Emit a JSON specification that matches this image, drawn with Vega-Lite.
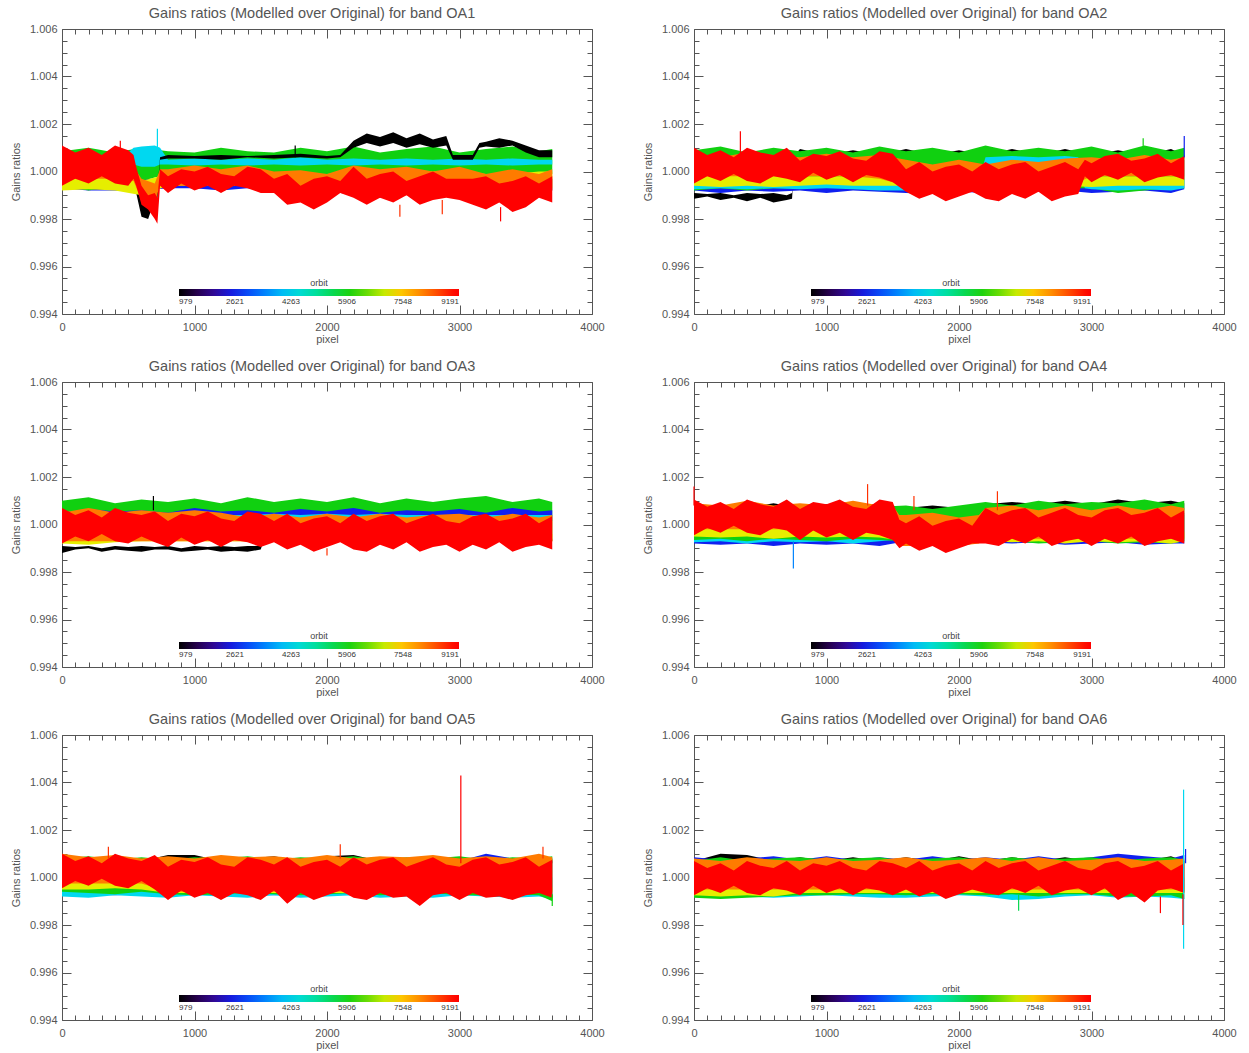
{
"$schema":"https://vega.github.io/schema/vega-lite/v6.json",
"autosize":{"type":"pad"},
"padding":{"left":10,"top":5,"right":5,"bottom":5},
"config":{"view":{"stroke":null},
"axis":{"grid":false,"domainColor":"#555","tickColor":"#555","labelColor":"#555","titleColor":"#555","labelFont":"Liberation Sans","titleFont":"Liberation Sans","labelFontSize":11,"titleFontSize":11,"titleFontWeight":"normal","labelFlush":false,"labelOverlap":false},
"title":{"fontSize":14.5,"fontWeight":"normal","font":"Liberation Sans","color":"#555","offset":2,"anchor":"middle","dx":-15},
"legend":{"titleFontSize":9,"titleFontWeight":"normal","titleColor":"#444","titleFont":"Liberation Sans","labelFont":"Liberation Sans","labelFontSize":8,"labelColor":"#333","titlePadding":1,"labelOffset":2,"gradientStrokeWidth":0}},
"datasets":{
"a1":[
{"o":2621,"x":0,"l":0.9993,"h":0.9997},{"o":2621,"x":200,"l":0.9992,"h":0.9997},{"o":2621,"x":400,"l":0.9992,"h":0.9997},{"o":2621,"x":600,"l":0.9992,"h":0.9997},{"o":2621,"x":800,"l":0.9993,"h":0.9997},{"o":2621,"x":1000,"l":0.9993,"h":0.9997},{"o":2621,"x":1200,"l":0.9992,"h":0.9997},{"o":2621,"x":1400,"l":0.9993,"h":0.9997},{"o":2621,"x":1600,"l":0.9992,"h":0.9997},{"o":2621,"x":1800,"l":0.9992,"h":0.9997},{"o":2621,"x":2000,"l":0.9992,"h":0.9997},{"o":2621,"x":2200,"l":0.999,"h":0.9997},{"o":2621,"x":2400,"l":0.9989,"h":0.9997},{"o":2621,"x":2600,"l":0.9991,"h":0.9997},{"o":2621,"x":2800,"l":0.999,"h":0.9997},{"o":2621,"x":3000,"l":0.9991,"h":0.9997},{"o":2621,"x":3200,"l":0.9992,"h":0.9997},{"o":2621,"x":3400,"l":0.9992,"h":0.9997},{"o":2621,"x":3600,"l":0.9992,"h":0.9997},{"o":2621,"x":3700,"l":0.9992,"h":0.9997},
{"o":5906,"x":0,"l":0.9994,"h":1.00085},{"o":5906,"x":200,"l":0.9992,"h":1.001},{"o":5906,"x":400,"l":0.9994,"h":1.0008},{"o":5906,"x":600,"l":0.9996,"h":1.001},{"o":5906,"x":800,"l":0.9999,"h":1.00085},{"o":5906,"x":1000,"l":0.9998,"h":1.0008},{"o":5906,"x":1200,"l":0.9999,"h":1.001},{"o":5906,"x":1400,"l":0.9999,"h":1.00085},{"o":5906,"x":1600,"l":0.9998,"h":1.0008},{"o":5906,"x":1800,"l":0.9999,"h":1.001},{"o":5906,"x":2000,"l":0.9999,"h":1.00085},{"o":5906,"x":2200,"l":0.9998,"h":1.00105},{"o":5906,"x":2400,"l":0.9999,"h":1.0008},{"o":5906,"x":2600,"l":0.9999,"h":1.00095},{"o":5906,"x":2800,"l":0.9998,"h":1.00105},{"o":5906,"x":3000,"l":0.9999,"h":1.0008},{"o":5906,"x":3200,"l":0.9999,"h":1.00095},{"o":5906,"x":3400,"l":0.9998,"h":1.00105},{"o":5906,"x":3600,"l":0.9999,"h":1.00085},{"o":5906,"x":3700,"l":0.9999,"h":1.00095},
{"o":4263,"x":0,"l":1.0001,"h":1.0003},{"o":4263,"x":200,"l":1.0001,"h":1.0003},{"o":4263,"x":400,"l":1.0001,"h":1.0003},{"o":4263,"x":540,"l":1.0003,"h":1.001},{"o":4263,"x":600,"l":1.0002,"h":1.00105},{"o":4263,"x":700,"l":1.0002,"h":1.0011},{"o":4263,"x":740,"l":1.0003,"h":1.001},{"o":4263,"x":800,"l":1.0003,"h":1.0005},{"o":4263,"x":1000,"l":1.00025,"h":1.00055},{"o":4263,"x":1200,"l":1.0003,"h":1.0005},{"o":4263,"x":1400,"l":1.00025,"h":1.00055},{"o":4263,"x":1600,"l":1.0003,"h":1.0005},{"o":4263,"x":1800,"l":1.00025,"h":1.0006},{"o":4263,"x":2000,"l":1.0003,"h":1.0005},{"o":4263,"x":2200,"l":1.00025,"h":1.00055},{"o":4263,"x":2400,"l":1.0003,"h":1.0005},{"o":4263,"x":2600,"l":1.00025,"h":1.00055},{"o":4263,"x":2800,"l":1.0003,"h":1.0005},{"o":4263,"x":3000,"l":1.00025,"h":1.00055},{"o":4263,"x":3200,"l":1.0003,"h":1.0005},{"o":4263,"x":3400,"l":1.00025,"h":1.00055},{"o":4263,"x":3600,"l":1.0003,"h":1.0005},{"o":4263,"x":3700,"l":1.0003,"h":1.0005},
{"o":979,"x":0,"l":0.9994,"h":0.9996},{"o":979,"x":200,"l":0.9994,"h":0.9996},{"o":979,"x":400,"l":0.9994,"h":0.9996},{"o":979,"x":500,"l":0.99935,"h":0.9996},{"o":979,"x":560,"l":0.9991,"h":0.9994},{"o":979,"x":600,"l":0.9981,"h":0.9988},{"o":979,"x":650,"l":0.998,"h":0.9986},{"o":979,"x":700,"l":0.9988,"h":0.9992},{"o":979,"x":720,"l":0.9988,"h":0.9992},{"o":979,"x":740,"l":1.0005,"h":1.0006},{"o":979,"x":800,"l":1.00055,"h":1.0007},{"o":979,"x":1000,"l":1.00055,"h":1.00065},{"o":979,"x":1200,"l":1.0005,"h":1.0007},{"o":979,"x":1400,"l":1.0006,"h":1.00065},{"o":979,"x":1600,"l":1.00055,"h":1.0007},{"o":979,"x":1800,"l":1.0006,"h":1.00075},{"o":979,"x":2000,"l":1.00055,"h":1.00065},{"o":979,"x":2100,"l":1.0006,"h":1.0007},{"o":979,"x":2200,"l":1.001,"h":1.0013},{"o":979,"x":2300,"l":1.0012,"h":1.0016},{"o":979,"x":2400,"l":1.00105,"h":1.00145},{"o":979,"x":2500,"l":1.0012,"h":1.00165},{"o":979,"x":2600,"l":1.001,"h":1.0014},{"o":979,"x":2700,"l":1.00115,"h":1.0016},{"o":979,"x":2800,"l":1.001,"h":1.00135},{"o":979,"x":2900,"l":1.0011,"h":1.0015},{"o":979,"x":2950,"l":1.0005,"h":1.0007},{"o":979,"x":3000,"l":1.0005,"h":1.0007},{"o":979,"x":3100,"l":1.0005,"h":1.0007},{"o":979,"x":3150,"l":1.001,"h":1.0012},{"o":979,"x":3200,"l":1.00105,"h":1.00125},{"o":979,"x":3300,"l":1.001,"h":1.0014},{"o":979,"x":3400,"l":1.0011,"h":1.0013},{"o":979,"x":3500,"l":1.0008,"h":1.0011},{"o":979,"x":3600,"l":1.0006,"h":1.0009},{"o":979,"x":3700,"l":1.0006,"h":1.0009},
{"o":7150,"x":0,"l":0.9992,"h":0.9999},{"o":7150,"x":200,"l":0.99925,"h":0.9998},{"o":7150,"x":400,"l":0.9992,"h":0.9998},{"o":7150,"x":600,"l":0.999,"h":0.9996},{"o":7150,"x":800,"l":0.9994,"h":0.9999},{"o":7150,"x":1000,"l":0.9994,"h":1.0},{"o":7150,"x":1200,"l":0.9994,"h":1.0},{"o":7150,"x":1400,"l":0.9994,"h":1.0},{"o":7150,"x":1600,"l":0.9993,"h":0.9999},{"o":7150,"x":1800,"l":0.9992,"h":0.9998},{"o":7150,"x":2000,"l":0.9993,"h":0.9999},{"o":7150,"x":2200,"l":0.9994,"h":1.0},{"o":7150,"x":2400,"l":0.9993,"h":1.0},{"o":7150,"x":2600,"l":0.9992,"h":0.9999},{"o":7150,"x":2800,"l":0.9993,"h":1.0},{"o":7150,"x":3000,"l":0.9993,"h":1.0},{"o":7150,"x":3200,"l":0.9992,"h":0.9999},{"o":7150,"x":3400,"l":0.9992,"h":0.9999},{"o":7150,"x":3600,"l":0.9993,"h":1.0},{"o":7150,"x":3700,"l":0.9993,"h":1.0},
{"o":8200,"x":0,"l":0.9997,"h":1.0005},{"o":8200,"x":200,"l":0.9997,"h":1.0006},{"o":8200,"x":400,"l":0.9997,"h":1.0005},{"o":8200,"x":540,"l":0.9996,"h":1.0002},{"o":8200,"x":600,"l":0.9988,"h":0.9997},{"o":8200,"x":700,"l":0.9986,"h":0.9995},{"o":8200,"x":740,"l":0.9995,"h":1.0001},{"o":8200,"x":800,"l":0.9994,"h":1.0001},{"o":8200,"x":1000,"l":0.9994,"h":1.00025},{"o":8200,"x":1200,"l":0.9994,"h":1.0001},{"o":8200,"x":1400,"l":0.9994,"h":1.00025},{"o":8200,"x":1600,"l":0.9992,"h":1.0},{"o":8200,"x":1800,"l":0.999,"h":1.00005},{"o":8200,"x":2000,"l":0.9992,"h":0.9999},{"o":8200,"x":2200,"l":0.9992,"h":1.00025},{"o":8200,"x":2400,"l":0.9991,"h":1.0001},{"o":8200,"x":2600,"l":0.999,"h":1.0002},{"o":8200,"x":2800,"l":0.9991,"h":1.0},{"o":8200,"x":3000,"l":0.9992,"h":1.0002},{"o":8200,"x":3200,"l":0.999,"h":0.9999},{"o":8200,"x":3400,"l":0.999,"h":1.0001},{"o":8200,"x":3600,"l":0.9991,"h":0.9999},{"o":8200,"x":3700,"l":0.9992,"h":1.0001},
{"o":9191,"x":0,"l":0.9994,"h":1.0011},{"o":9191,"x":100,"l":0.9997,"h":1.0008},{"o":9191,"x":200,"l":0.9995,"h":1.001},{"o":9191,"x":300,"l":0.9998,"h":1.0007},{"o":9191,"x":400,"l":0.9995,"h":1.0011},{"o":9191,"x":500,"l":0.9994,"h":1.0009},{"o":9191,"x":540,"l":0.9997,"h":1.0007},{"o":9191,"x":560,"l":0.9994,"h":1.0002},{"o":9191,"x":600,"l":0.9986,"h":0.9994},{"o":9191,"x":650,"l":0.9984,"h":0.999},{"o":9191,"x":700,"l":0.998,"h":0.9991},{"o":9191,"x":720,"l":0.9978,"h":0.9989},{"o":9191,"x":740,"l":0.9994,"h":1.0001},{"o":9191,"x":800,"l":0.9991,"h":0.9998},{"o":9191,"x":900,"l":0.9995,"h":1.0001},{"o":9191,"x":1000,"l":0.9992,"h":1.0},{"o":9191,"x":1100,"l":0.9994,"h":1.0002},{"o":9191,"x":1200,"l":0.9991,"h":0.9999},{"o":9191,"x":1300,"l":0.9994,"h":0.9998},{"o":9191,"x":1400,"l":0.9993,"h":1.0002},{"o":9191,"x":1500,"l":0.9991,"h":1.0001},{"o":9191,"x":1600,"l":0.9991,"h":0.9997},{"o":9191,"x":1700,"l":0.9986,"h":0.9999},{"o":9191,"x":1800,"l":0.9987,"h":0.9994},{"o":9191,"x":1900,"l":0.9984,"h":0.9997},{"o":9191,"x":2000,"l":0.9987,"h":0.9998},{"o":9191,"x":2100,"l":0.9991,"h":0.9996},{"o":9191,"x":2200,"l":0.9989,"h":1.0002},{"o":9191,"x":2300,"l":0.9986,"h":0.9997},{"o":9191,"x":2400,"l":0.9989,"h":0.9999},{"o":9191,"x":2500,"l":0.9987,"h":1.0},{"o":9191,"x":2600,"l":0.999,"h":0.9996},{"o":9191,"x":2700,"l":0.9986,"h":0.9998},{"o":9191,"x":2800,"l":0.9988,"h":1.0},{"o":9191,"x":2900,"l":0.9989,"h":0.9997},{"o":9191,"x":3000,"l":0.9988,"h":0.9997},{"o":9191,"x":3100,"l":0.9986,"h":0.9997},{"o":9191,"x":3200,"l":0.9984,"h":0.9998},{"o":9191,"x":3300,"l":0.9987,"h":0.9995},{"o":9191,"x":3400,"l":0.9983,"h":0.9996},{"o":9191,"x":3500,"l":0.9985,"h":0.9998},{"o":9191,"x":3600,"l":0.9989,"h":0.9995},{"o":9191,"x":3700,"l":0.9987,"h":0.9998}
],
"s1":[{"o":9191,"x":440,"l":1.0002,"h":1.0013},{"o":4263,"x":720,"l":1.0008,"h":1.0018},{"o":8700,"x":2550,"l":0.9986,"h":0.9981},{"o":8700,"x":2870,"l":0.9988,"h":0.9982},{"o":9191,"x":3310,"l":0.9985,"h":0.9979},{"o":979,"x":1760,"l":1.0006,"h":1.0011}],
"a2":[
{"o":979,"x":0,"l":0.99885,"h":0.9991},{"o":979,"x":100,"l":0.99895,"h":0.99905},{"o":979,"x":200,"l":0.9988,"h":0.9991},{"o":979,"x":300,"l":0.9989,"h":0.999},{"o":979,"x":400,"l":0.99875,"h":0.9991},{"o":979,"x":500,"l":0.9989,"h":0.99905},{"o":979,"x":600,"l":0.9987,"h":0.9991},{"o":979,"x":700,"l":0.9988,"h":0.999},{"o":979,"x":740,"l":0.99885,"h":0.9991},{"o":979,"x":760,"l":1.00055,"h":1.0007},{"o":979,"x":800,"l":1.00055,"h":1.00095},{"o":979,"x":1000,"l":1.00055,"h":1.0007},{"o":979,"x":1200,"l":1.00055,"h":1.0009},{"o":979,"x":1400,"l":1.00055,"h":1.0007},{"o":979,"x":1600,"l":1.00055,"h":1.00095},{"o":979,"x":1800,"l":1.00055,"h":1.0007},{"o":979,"x":2000,"l":1.00055,"h":1.0009},{"o":979,"x":2200,"l":1.00055,"h":1.0007},{"o":979,"x":2400,"l":1.00055,"h":1.00095},{"o":979,"x":2600,"l":1.00055,"h":1.0007},{"o":979,"x":2800,"l":1.00055,"h":1.00095},{"o":979,"x":3000,"l":1.00055,"h":1.0007},{"o":979,"x":3200,"l":1.00055,"h":1.0009},{"o":979,"x":3400,"l":1.00055,"h":1.0007},{"o":979,"x":3600,"l":1.00055,"h":1.00095},{"o":979,"x":3700,"l":1.00055,"h":1.0007},
{"o":2621,"x":0,"l":0.9992,"h":1.0005},{"o":2621,"x":200,"l":0.9991,"h":1.0005},{"o":2621,"x":400,"l":0.9992,"h":1.0005},{"o":2621,"x":600,"l":0.99915,"h":1.0005},{"o":2621,"x":800,"l":0.9992,"h":1.0005},{"o":2621,"x":1000,"l":0.9991,"h":1.0005},{"o":2621,"x":1200,"l":0.9992,"h":1.0005},{"o":2621,"x":1400,"l":0.99915,"h":1.0005},{"o":2621,"x":1600,"l":0.9991,"h":1.0005},{"o":2621,"x":1800,"l":0.99905,"h":1.0005},{"o":2621,"x":2000,"l":0.99915,"h":1.0005},{"o":2621,"x":2200,"l":0.9991,"h":1.0005},{"o":2621,"x":2400,"l":0.9992,"h":1.0005},{"o":2621,"x":2600,"l":0.99915,"h":1.0005},{"o":2621,"x":2800,"l":0.9992,"h":1.0005},{"o":2621,"x":3000,"l":0.9991,"h":1.0005},{"o":2621,"x":3200,"l":0.99915,"h":1.0005},{"o":2621,"x":3400,"l":0.9992,"h":1.0005},{"o":2621,"x":3600,"l":0.9991,"h":1.0005},{"o":2621,"x":3700,"l":0.99925,"h":1.0005},
{"o":5906,"x":0,"l":0.9992,"h":1.0009},{"o":5906,"x":200,"l":0.9993,"h":1.00105},{"o":5906,"x":400,"l":0.9992,"h":1.0008},{"o":5906,"x":600,"l":0.9993,"h":1.001},{"o":5906,"x":800,"l":0.9993,"h":1.00085},{"o":5906,"x":1000,"l":0.9994,"h":1.001},{"o":5906,"x":1200,"l":0.9993,"h":1.0008},{"o":5906,"x":1400,"l":0.9993,"h":1.00105},{"o":5906,"x":1600,"l":0.9993,"h":1.00085},{"o":5906,"x":1800,"l":0.9993,"h":1.001},{"o":5906,"x":2000,"l":0.9993,"h":1.0008},{"o":5906,"x":2200,"l":0.9993,"h":1.0011},{"o":5906,"x":2400,"l":0.9993,"h":1.00085},{"o":5906,"x":2600,"l":0.9993,"h":1.001},{"o":5906,"x":2800,"l":0.9993,"h":1.00085},{"o":5906,"x":3000,"l":0.9993,"h":1.00105},{"o":5906,"x":3200,"l":0.9991,"h":1.0008},{"o":5906,"x":3400,"l":0.9992,"h":1.0011},{"o":5906,"x":3600,"l":0.9993,"h":1.00085},{"o":5906,"x":3700,"l":0.9993,"h":1.001},
{"o":4263,"x":0,"l":0.99925,"h":0.9997},{"o":4263,"x":200,"l":0.9993,"h":0.9997},{"o":4263,"x":400,"l":0.99925,"h":0.9997},{"o":4263,"x":600,"l":0.9993,"h":0.9997},{"o":4263,"x":800,"l":0.99925,"h":0.9997},{"o":4263,"x":1000,"l":0.9993,"h":0.9997},{"o":4263,"x":1200,"l":0.99925,"h":0.9997},{"o":4263,"x":1400,"l":0.9992,"h":0.9997},{"o":4263,"x":1600,"l":0.9992,"h":0.9996},{"o":4263,"x":1800,"l":0.9992,"h":0.9996},{"o":4263,"x":2000,"l":0.9992,"h":0.9996},{"o":4263,"x":2150,"l":0.9992,"h":0.9996},{"o":4263,"x":2200,"l":1.0001,"h":1.0006},{"o":4263,"x":2400,"l":1.0001,"h":1.00065},{"o":4263,"x":2600,"l":1.00015,"h":1.0006},{"o":4263,"x":2800,"l":1.0001,"h":1.00065},{"o":4263,"x":2900,"l":1.0001,"h":1.0006},{"o":4263,"x":2950,"l":0.9993,"h":0.9997},{"o":4263,"x":3000,"l":0.99925,"h":0.9997},{"o":4263,"x":3200,"l":0.9992,"h":0.9997},{"o":4263,"x":3400,"l":0.99925,"h":0.9997},{"o":4263,"x":3600,"l":0.9992,"h":0.9997},{"o":4263,"x":3700,"l":0.9993,"h":0.9997},
{"o":7150,"x":0,"l":0.9994,"h":0.9999},{"o":7150,"x":200,"l":0.99935,"h":1.0},{"o":7150,"x":400,"l":0.9994,"h":0.9999},{"o":7150,"x":600,"l":0.99935,"h":0.9999},{"o":7150,"x":800,"l":0.9994,"h":0.9998},{"o":7150,"x":1000,"l":0.99945,"h":0.9998},{"o":7150,"x":1200,"l":0.9994,"h":0.9998},{"o":7150,"x":1400,"l":0.9994,"h":0.9998},{"o":7150,"x":1600,"l":0.9994,"h":0.9997},{"o":7150,"x":2000,"l":0.9994,"h":0.9997},{"o":7150,"x":2400,"l":0.9994,"h":0.9997},{"o":7150,"x":2800,"l":0.9994,"h":0.9997},{"o":7150,"x":3000,"l":0.99935,"h":0.9998},{"o":7150,"x":3200,"l":0.9994,"h":0.9998},{"o":7150,"x":3400,"l":0.9994,"h":0.9998},{"o":7150,"x":3600,"l":0.9994,"h":0.9998},{"o":7150,"x":3700,"l":0.9994,"h":0.9998},
{"o":8200,"x":0,"l":0.9998,"h":1.0007},{"o":8200,"x":200,"l":0.9998,"h":1.0006},{"o":8200,"x":400,"l":0.9998,"h":1.0008},{"o":8200,"x":600,"l":0.9998,"h":1.0007},{"o":8200,"x":800,"l":0.9998,"h":1.0006},{"o":8200,"x":1000,"l":0.9998,"h":1.00075},{"o":8200,"x":1200,"l":0.9998,"h":1.0006},{"o":8200,"x":1400,"l":0.9997,"h":1.0007},{"o":8200,"x":1600,"l":0.9994,"h":1.0005},{"o":8200,"x":1800,"l":0.9993,"h":1.0003},{"o":8200,"x":2000,"l":0.9993,"h":1.0005},{"o":8200,"x":2200,"l":0.9993,"h":1.0003},{"o":8200,"x":2400,"l":0.9992,"h":1.0005},{"o":8200,"x":2600,"l":0.9992,"h":1.0004},{"o":8200,"x":2800,"l":0.9993,"h":1.00055},{"o":8200,"x":3000,"l":0.9998,"h":1.0006},{"o":8200,"x":3200,"l":0.9998,"h":1.0005},{"o":8200,"x":3400,"l":0.9998,"h":1.0007},{"o":8200,"x":3600,"l":0.9998,"h":1.0005},{"o":8200,"x":3700,"l":0.9998,"h":1.0006},
{"o":9191,"x":0,"l":0.9995,"h":1.001},{"o":9191,"x":100,"l":0.9998,"h":1.0007},{"o":9191,"x":200,"l":0.9996,"h":1.0009},{"o":9191,"x":300,"l":0.9999,"h":1.0006},{"o":9191,"x":400,"l":0.9996,"h":1.001},{"o":9191,"x":500,"l":0.9995,"h":1.0008},{"o":9191,"x":600,"l":0.9998,"h":1.0007},{"o":9191,"x":700,"l":0.9997,"h":1.001},{"o":9191,"x":800,"l":0.99955,"h":1.00045},{"o":9191,"x":900,"l":0.99995,"h":1.00075},{"o":9191,"x":1000,"l":0.99965,"h":1.00065},{"o":9191,"x":1100,"l":0.99985,"h":1.00085},{"o":9191,"x":1200,"l":0.99955,"h":1.00055},{"o":9191,"x":1300,"l":0.99985,"h":1.00045},{"o":9191,"x":1400,"l":0.99975,"h":1.00085},{"o":9191,"x":1500,"l":0.99955,"h":1.00075},{"o":9191,"x":1600,"l":0.99915,"h":1.0001},{"o":9191,"x":1700,"l":0.99885,"h":1.0004},{"o":9191,"x":1800,"l":0.99905,"h":1.0},{"o":9191,"x":1900,"l":0.99875,"h":1.0002},{"o":9191,"x":2000,"l":0.99895,"h":1.0003},{"o":9191,"x":2100,"l":0.99915,"h":1.0},{"o":9191,"x":2200,"l":0.99885,"h":1.0004},{"o":9191,"x":2300,"l":0.99875,"h":1.0001},{"o":9191,"x":2400,"l":0.99905,"h":1.0003},{"o":9191,"x":2500,"l":0.99885,"h":1.0004},{"o":9191,"x":2600,"l":0.99915,"h":1.0},{"o":9191,"x":2700,"l":0.99875,"h":1.0002},{"o":9191,"x":2800,"l":0.99895,"h":1.0004},{"o":9191,"x":2900,"l":0.99905,"h":1.0001},{"o":9191,"x":2950,"l":0.9998,"h":1.0005},{"o":9191,"x":3000,"l":0.99955,"h":1.00035},{"o":9191,"x":3100,"l":0.99985,"h":1.00065},{"o":9191,"x":3200,"l":0.99965,"h":1.00075},{"o":9191,"x":3300,"l":0.99995,"h":1.00045},{"o":9191,"x":3400,"l":0.99955,"h":1.00055},{"o":9191,"x":3500,"l":0.99975,"h":1.00075},{"o":9191,"x":3600,"l":0.99985,"h":1.00035},{"o":9191,"x":3700,"l":0.99965,"h":1.00065}
],
"s2":[{"o":9191,"x":350,"l":1.0005,"h":1.0017},{"o":2621,"x":3700,"l":1.0006,"h":1.0015},{"o":5906,"x":3390,"l":1.0008,"h":1.0014}],
"a3":[
{"o":5906,"x":0,"l":0.9994,"h":1.001},{"o":5906,"x":200,"l":0.9994,"h":1.00115},{"o":5906,"x":400,"l":0.9994,"h":1.0009},{"o":5906,"x":600,"l":0.9994,"h":1.00105},{"o":5906,"x":800,"l":0.9994,"h":1.00095},{"o":5906,"x":1000,"l":0.9994,"h":1.0011},{"o":5906,"x":1200,"l":0.9994,"h":1.0009},{"o":5906,"x":1400,"l":0.9994,"h":1.00115},{"o":5906,"x":1600,"l":0.9994,"h":1.00095},{"o":5906,"x":1800,"l":0.9994,"h":1.0011},{"o":5906,"x":2000,"l":0.9994,"h":1.00095},{"o":5906,"x":2200,"l":0.9994,"h":1.00115},{"o":5906,"x":2400,"l":0.9994,"h":1.0009},{"o":5906,"x":2600,"l":0.9994,"h":1.0011},{"o":5906,"x":2800,"l":0.9994,"h":1.00095},{"o":5906,"x":3000,"l":0.9994,"h":1.0011},{"o":5906,"x":3200,"l":0.9994,"h":1.0012},{"o":5906,"x":3400,"l":0.9994,"h":1.00095},{"o":5906,"x":3600,"l":0.9994,"h":1.0011},{"o":5906,"x":3700,"l":0.9994,"h":1.00095},
{"o":2621,"x":0,"l":1.00035,"h":1.0005},{"o":2621,"x":200,"l":1.00035,"h":1.00065},{"o":2621,"x":400,"l":1.00035,"h":1.00055},{"o":2621,"x":600,"l":1.00035,"h":1.0006},{"o":2621,"x":800,"l":1.00035,"h":1.0005},{"o":2621,"x":1000,"l":1.00035,"h":1.0007},{"o":2621,"x":1200,"l":1.00035,"h":1.00055},{"o":2621,"x":1400,"l":1.00035,"h":1.0006},{"o":2621,"x":1600,"l":1.00035,"h":1.0005},{"o":2621,"x":1800,"l":1.00035,"h":1.00065},{"o":2621,"x":2000,"l":1.00035,"h":1.00055},{"o":2621,"x":2200,"l":1.00035,"h":1.0007},{"o":2621,"x":2400,"l":1.00035,"h":1.0005},{"o":2621,"x":2600,"l":1.00035,"h":1.0006},{"o":2621,"x":2800,"l":1.00035,"h":1.00055},{"o":2621,"x":3000,"l":1.00035,"h":1.00065},{"o":2621,"x":3200,"l":1.00035,"h":1.0005},{"o":2621,"x":3400,"l":1.00035,"h":1.0007},{"o":2621,"x":3600,"l":1.00035,"h":1.00055},{"o":2621,"x":3700,"l":1.00035,"h":1.0006},
{"o":4263,"x":0,"l":1.00015,"h":1.0004},{"o":4263,"x":200,"l":1.00015,"h":1.0004},{"o":4263,"x":400,"l":1.00015,"h":1.0004},{"o":4263,"x":600,"l":1.00015,"h":1.0004},{"o":4263,"x":800,"l":1.00015,"h":1.0004},{"o":4263,"x":1000,"l":1.00015,"h":1.0004},{"o":4263,"x":1200,"l":1.00015,"h":1.0004},{"o":4263,"x":1400,"l":1.00015,"h":1.0004},{"o":4263,"x":1600,"l":1.00015,"h":1.00045},{"o":4263,"x":1800,"l":1.00015,"h":1.0004},{"o":4263,"x":2000,"l":1.00015,"h":1.00045},{"o":4263,"x":2200,"l":1.00015,"h":1.0004},{"o":4263,"x":2400,"l":1.00015,"h":1.00045},{"o":4263,"x":2600,"l":1.00015,"h":1.0004},{"o":4263,"x":2800,"l":1.00015,"h":1.0004},{"o":4263,"x":3000,"l":1.00015,"h":1.0004},{"o":4263,"x":3200,"l":1.00015,"h":1.0004},{"o":4263,"x":3400,"l":1.00015,"h":1.0004},{"o":4263,"x":3600,"l":1.00015,"h":1.0004},{"o":4263,"x":3700,"l":1.00015,"h":1.0004},
{"o":979,"x":0,"l":0.9988,"h":0.9991},{"o":979,"x":100,"l":0.99895,"h":0.99905},{"o":979,"x":200,"l":0.999,"h":0.9991},{"o":979,"x":300,"l":0.99885,"h":0.999},{"o":979,"x":400,"l":0.99895,"h":0.9991},{"o":979,"x":500,"l":0.9989,"h":0.99905},{"o":979,"x":600,"l":0.99885,"h":0.9991},{"o":979,"x":700,"l":0.99895,"h":0.99905},{"o":979,"x":800,"l":0.99895,"h":0.9991},{"o":979,"x":900,"l":0.99885,"h":0.999},{"o":979,"x":1000,"l":0.9989,"h":0.9991},{"o":979,"x":1100,"l":0.99895,"h":0.99905},{"o":979,"x":1200,"l":0.99885,"h":0.9991},{"o":979,"x":1300,"l":0.9989,"h":0.99905},{"o":979,"x":1400,"l":0.99885,"h":0.9991},{"o":979,"x":1500,"l":0.99895,"h":0.9991},{"o":979,"x":1520,"l":0.9993,"h":0.9994},{"o":979,"x":2400,"l":0.9993,"h":0.9994},{"o":979,"x":3700,"l":0.9993,"h":0.9994},
{"o":7150,"x":0,"l":0.9992,"h":0.9997},{"o":7150,"x":200,"l":0.99915,"h":0.9997},{"o":7150,"x":400,"l":0.99925,"h":0.9997},{"o":7150,"x":600,"l":0.9993,"h":0.9996},{"o":7150,"x":2000,"l":0.9993,"h":0.9996},{"o":7150,"x":3700,"l":0.9993,"h":0.9996},
{"o":8200,"x":0,"l":0.9993,"h":1.0005},{"o":8200,"x":200,"l":0.9993,"h":1.0007},{"o":8200,"x":400,"l":0.9993,"h":1.0005},{"o":8200,"x":600,"l":0.9993,"h":1.0006},{"o":8200,"x":800,"l":0.9993,"h":1.0005},{"o":8200,"x":1000,"l":0.9993,"h":1.0006},{"o":8200,"x":1200,"l":0.9993,"h":1.0005},{"o":8200,"x":1400,"l":0.9993,"h":1.0003},{"o":8200,"x":1600,"l":0.9993,"h":1.00045},{"o":8200,"x":1800,"l":0.9993,"h":1.0003},{"o":8200,"x":2000,"l":0.9993,"h":1.00045},{"o":8200,"x":2200,"l":0.9993,"h":1.0003},{"o":8200,"x":2400,"l":0.9993,"h":1.00045},{"o":8200,"x":2600,"l":0.9993,"h":1.0003},{"o":8200,"x":2800,"l":0.9993,"h":1.0004},{"o":8200,"x":3000,"l":0.9993,"h":1.00045},{"o":8200,"x":3200,"l":0.9993,"h":1.0003},{"o":8200,"x":3400,"l":0.9993,"h":1.00045},{"o":8200,"x":3600,"l":0.9993,"h":1.0003},{"o":8200,"x":3700,"l":0.9993,"h":1.0004},
{"o":9191,"x":0,"l":0.9992,"h":1.0007},{"o":9191,"x":100,"l":0.9995,"h":1.0004},{"o":9191,"x":200,"l":0.9993,"h":1.0006},{"o":9191,"x":300,"l":0.9996,"h":1.0003},{"o":9191,"x":400,"l":0.9993,"h":1.0007},{"o":9191,"x":500,"l":0.9992,"h":1.0005},{"o":9191,"x":600,"l":0.9995,"h":1.0004},{"o":9191,"x":700,"l":0.99925,"h":1.00055},{"o":9191,"x":800,"l":0.99905,"h":1.00015},{"o":9191,"x":900,"l":0.99945,"h":1.00045},{"o":9191,"x":1000,"l":0.99915,"h":1.00035},{"o":9191,"x":1100,"l":0.99935,"h":1.00055},{"o":9191,"x":1200,"l":0.99905,"h":1.00025},{"o":9191,"x":1300,"l":0.99935,"h":1.00015},{"o":9191,"x":1400,"l":0.99925,"h":1.00055},{"o":9191,"x":1500,"l":0.99905,"h":1.00045},{"o":9191,"x":1600,"l":0.99925,"h":1.00015},{"o":9191,"x":1700,"l":0.99895,"h":1.00045},{"o":9191,"x":1800,"l":0.99915,"h":1.00005},{"o":9191,"x":1900,"l":0.99885,"h":1.00025},{"o":9191,"x":2000,"l":0.99905,"h":1.00035},{"o":9191,"x":2100,"l":0.99925,"h":1.00005},{"o":9191,"x":2200,"l":0.99895,"h":1.00045},{"o":9191,"x":2300,"l":0.99885,"h":1.00015},{"o":9191,"x":2400,"l":0.99915,"h":1.00035},{"o":9191,"x":2500,"l":0.99895,"h":1.00045},{"o":9191,"x":2600,"l":0.99925,"h":1.00005},{"o":9191,"x":2700,"l":0.99885,"h":1.00025},{"o":9191,"x":2800,"l":0.99905,"h":1.00045},{"o":9191,"x":2900,"l":0.99915,"h":1.00015},{"o":9191,"x":3000,"l":0.99885,"h":1.00005},{"o":9191,"x":3100,"l":0.99915,"h":1.00035},{"o":9191,"x":3200,"l":0.99895,"h":1.00045},{"o":9191,"x":3300,"l":0.99925,"h":1.00015},{"o":9191,"x":3400,"l":0.99885,"h":1.00025},{"o":9191,"x":3500,"l":0.99905,"h":1.00045},{"o":9191,"x":3600,"l":0.99915,"h":1.00005},{"o":9191,"x":3700,"l":0.99895,"h":1.00035}
],
"s3":[{"o":979,"x":690,"l":1.0006,"h":1.0012},{"o":8700,"x":2000,"l":0.999,"h":0.9987}],
"a4":[
{"o":979,"x":0,"l":1.0006,"h":1.0007},{"o":979,"x":200,"l":1.0006,"h":1.00085},{"o":979,"x":400,"l":1.0006,"h":1.0007},{"o":979,"x":600,"l":1.0006,"h":1.0009},{"o":979,"x":800,"l":1.0006,"h":1.0007},{"o":979,"x":1000,"l":1.0006,"h":1.00085},{"o":979,"x":1200,"l":1.0006,"h":1.0007},{"o":979,"x":1400,"l":1.0006,"h":1.0009},{"o":979,"x":1600,"l":1.0006,"h":1.0007},{"o":979,"x":1800,"l":1.0006,"h":1.0008},{"o":979,"x":2000,"l":1.0006,"h":1.0007},{"o":979,"x":2200,"l":1.0006,"h":1.00085},{"o":979,"x":2400,"l":1.0006,"h":1.00095},{"o":979,"x":2600,"l":1.0006,"h":1.00085},{"o":979,"x":2800,"l":1.0006,"h":1.001},{"o":979,"x":3000,"l":1.0006,"h":1.00085},{"o":979,"x":3200,"l":1.0006,"h":1.00105},{"o":979,"x":3400,"l":1.0006,"h":1.0009},{"o":979,"x":3600,"l":1.0006,"h":1.001},{"o":979,"x":3700,"l":1.0006,"h":1.0009},
{"o":2621,"x":0,"l":0.9992,"h":1.0005},{"o":2621,"x":200,"l":0.99915,"h":1.0005},{"o":2621,"x":400,"l":0.9992,"h":1.0005},{"o":2621,"x":600,"l":0.9991,"h":1.0005},{"o":2621,"x":800,"l":0.9992,"h":1.0005},{"o":2621,"x":1000,"l":0.99915,"h":1.0005},{"o":2621,"x":1200,"l":0.9992,"h":1.0005},{"o":2621,"x":1400,"l":0.9991,"h":1.0005},{"o":2621,"x":1600,"l":0.9993,"h":1.0005},{"o":2621,"x":1800,"l":0.99925,"h":1.0005},{"o":2621,"x":2000,"l":0.9993,"h":1.0005},{"o":2621,"x":2200,"l":0.99925,"h":1.0005},{"o":2621,"x":2400,"l":0.9992,"h":1.0005},{"o":2621,"x":2600,"l":0.99925,"h":1.0005},{"o":2621,"x":2800,"l":0.99915,"h":1.0005},{"o":2621,"x":3000,"l":0.9992,"h":1.0005},{"o":2621,"x":3200,"l":0.99925,"h":1.0005},{"o":2621,"x":3400,"l":0.99915,"h":1.0005},{"o":2621,"x":3600,"l":0.9992,"h":1.0005},{"o":2621,"x":3700,"l":0.9992,"h":1.0005},
{"o":4263,"x":0,"l":0.99925,"h":1.0004},{"o":4263,"x":200,"l":0.9993,"h":1.0004},{"o":4263,"x":400,"l":0.9992,"h":1.0004},{"o":4263,"x":600,"l":0.9993,"h":1.0004},{"o":4263,"x":800,"l":0.99925,"h":1.0004},{"o":4263,"x":1000,"l":0.9993,"h":1.0004},{"o":4263,"x":1200,"l":0.9992,"h":1.0004},{"o":4263,"x":1400,"l":0.9993,"h":1.0004},{"o":4263,"x":1600,"l":0.9994,"h":1.0004},{"o":4263,"x":1800,"l":0.9994,"h":1.0004},{"o":4263,"x":2000,"l":0.9994,"h":1.0004},{"o":4263,"x":2200,"l":0.9994,"h":1.0004},{"o":4263,"x":2400,"l":0.9993,"h":1.0004},{"o":4263,"x":2600,"l":0.99925,"h":1.0004},{"o":4263,"x":2800,"l":0.9993,"h":1.0004},{"o":4263,"x":3000,"l":0.99925,"h":1.0004},{"o":4263,"x":3200,"l":0.9993,"h":1.0004},{"o":4263,"x":3400,"l":0.99925,"h":1.0004},{"o":4263,"x":3600,"l":0.9993,"h":1.0004},{"o":4263,"x":3700,"l":0.9993,"h":1.0004},
{"o":5906,"x":0,"l":0.99935,"h":1.00085},{"o":5906,"x":200,"l":0.9994,"h":1.0007},{"o":5906,"x":400,"l":0.9993,"h":1.00085},{"o":5906,"x":600,"l":0.9994,"h":1.00075},{"o":5906,"x":800,"l":0.99935,"h":1.0008},{"o":5906,"x":1000,"l":0.9993,"h":1.0007},{"o":5906,"x":1200,"l":0.9994,"h":1.00085},{"o":5906,"x":1400,"l":0.99935,"h":1.00075},{"o":5906,"x":1600,"l":0.9993,"h":1.0008},{"o":5906,"x":1800,"l":0.99935,"h":1.00065},{"o":5906,"x":2000,"l":0.9993,"h":1.0008},{"o":5906,"x":2200,"l":0.99925,"h":1.00095},{"o":5906,"x":2400,"l":0.9993,"h":1.0008},{"o":5906,"x":2600,"l":0.9992,"h":1.001},{"o":5906,"x":2800,"l":0.99925,"h":1.00085},{"o":5906,"x":3000,"l":0.9993,"h":1.00095},{"o":5906,"x":3200,"l":0.9992,"h":1.0009},{"o":5906,"x":3400,"l":0.99925,"h":1.00105},{"o":5906,"x":3600,"l":0.9992,"h":1.00085},{"o":5906,"x":3700,"l":0.9993,"h":1.001},
{"o":7150,"x":0,"l":0.9995,"h":0.9999},{"o":7150,"x":200,"l":0.99945,"h":0.9999},{"o":7150,"x":400,"l":0.9995,"h":1.0},{"o":7150,"x":600,"l":0.9994,"h":0.9999},{"o":7150,"x":800,"l":0.9995,"h":0.9999},{"o":7150,"x":1000,"l":0.99945,"h":0.9999},{"o":7150,"x":1200,"l":0.9995,"h":0.9998},{"o":7150,"x":1400,"l":0.99945,"h":0.9999},{"o":7150,"x":1600,"l":0.9993,"h":0.9997},{"o":7150,"x":1800,"l":0.9993,"h":0.9997},{"o":7150,"x":2000,"l":0.9993,"h":0.9997},{"o":7150,"x":2200,"l":0.9993,"h":0.9997},{"o":7150,"x":2400,"l":0.99925,"h":0.9997},{"o":7150,"x":2600,"l":0.9993,"h":0.9997},{"o":7150,"x":2800,"l":0.9992,"h":0.9997},{"o":7150,"x":3000,"l":0.9993,"h":0.9997},{"o":7150,"x":3200,"l":0.99925,"h":0.9997},{"o":7150,"x":3400,"l":0.9993,"h":0.9997},{"o":7150,"x":3600,"l":0.9992,"h":0.9997},{"o":7150,"x":3700,"l":0.9993,"h":0.9997},
{"o":8200,"x":0,"l":0.9998,"h":1.0009},{"o":8200,"x":200,"l":0.9998,"h":1.0008},{"o":8200,"x":400,"l":0.9998,"h":1.001},{"o":8200,"x":600,"l":0.9998,"h":1.0008},{"o":8200,"x":800,"l":0.9998,"h":1.0009},{"o":8200,"x":1000,"l":0.9997,"h":1.0008},{"o":8200,"x":1200,"l":0.9997,"h":1.001},{"o":8200,"x":1400,"l":0.9997,"h":1.0008},{"o":8200,"x":1500,"l":0.9997,"h":1.0008},{"o":8200,"x":1550,"l":0.9991,"h":1.0004},{"o":8200,"x":1600,"l":0.9991,"h":1.0004},{"o":8200,"x":1800,"l":0.9991,"h":1.0005},{"o":8200,"x":2000,"l":0.9991,"h":1.0003},{"o":8200,"x":2150,"l":0.9992,"h":1.0004},{"o":8200,"x":2200,"l":0.9994,"h":1.0007},{"o":8200,"x":2400,"l":0.9994,"h":1.0008},{"o":8200,"x":2600,"l":0.9994,"h":1.0006},{"o":8200,"x":2800,"l":0.9994,"h":1.0008},{"o":8200,"x":3000,"l":0.9994,"h":1.0006},{"o":8200,"x":3200,"l":0.9994,"h":1.0008},{"o":8200,"x":3400,"l":0.9994,"h":1.0006},{"o":8200,"x":3600,"l":0.9994,"h":1.0008},{"o":8200,"x":3700,"l":0.9994,"h":1.0007},
{"o":9191,"x":0,"l":0.99955,"h":1.00105},{"o":9191,"x":100,"l":0.99985,"h":1.00075},{"o":9191,"x":200,"l":0.99965,"h":1.00095},{"o":9191,"x":300,"l":0.99995,"h":1.00065},{"o":9191,"x":400,"l":0.99965,"h":1.00105},{"o":9191,"x":500,"l":0.99955,"h":1.00085},{"o":9191,"x":600,"l":0.99985,"h":1.00075},{"o":9191,"x":700,"l":0.99975,"h":1.00105},{"o":9191,"x":800,"l":0.99935,"h":1.00065},{"o":9191,"x":900,"l":0.99975,"h":1.00095},{"o":9191,"x":1000,"l":0.99945,"h":1.00085},{"o":9191,"x":1100,"l":0.99965,"h":1.00105},{"o":9191,"x":1200,"l":0.99935,"h":1.00075},{"o":9191,"x":1300,"l":0.99965,"h":1.00065},{"o":9191,"x":1400,"l":0.99955,"h":1.00105},{"o":9191,"x":1500,"l":0.99935,"h":1.00095},{"o":9191,"x":1550,"l":0.999,"h":1.0002},{"o":9191,"x":1600,"l":0.9992,"h":1.00005},{"o":9191,"x":1700,"l":0.9989,"h":1.00035},{"o":9191,"x":1800,"l":0.9991,"h":0.99995},{"o":9191,"x":1900,"l":0.9988,"h":1.00015},{"o":9191,"x":2000,"l":0.999,"h":1.00025},{"o":9191,"x":2100,"l":0.9992,"h":0.99995},{"o":9191,"x":2200,"l":0.9992,"h":1.0007},{"o":9191,"x":2300,"l":0.9991,"h":1.0004},{"o":9191,"x":2400,"l":0.9994,"h":1.0006},{"o":9191,"x":2500,"l":0.9992,"h":1.0007},{"o":9191,"x":2600,"l":0.9995,"h":1.0003},{"o":9191,"x":2700,"l":0.9991,"h":1.0005},{"o":9191,"x":2800,"l":0.9993,"h":1.0007},{"o":9191,"x":2900,"l":0.9994,"h":1.0004},{"o":9191,"x":3000,"l":0.9991,"h":1.0003},{"o":9191,"x":3100,"l":0.9994,"h":1.0006},{"o":9191,"x":3200,"l":0.9992,"h":1.0007},{"o":9191,"x":3300,"l":0.9995,"h":1.0004},{"o":9191,"x":3400,"l":0.9991,"h":1.0005},{"o":9191,"x":3500,"l":0.9993,"h":1.0007},{"o":9191,"x":3600,"l":0.9994,"h":1.0003},{"o":9191,"x":3700,"l":0.9992,"h":1.0006}
],
"s4":[{"o":3500,"x":750,"l":0.9993,"h":0.99815},{"o":8700,"x":1310,"l":1.0008,"h":1.0017},{"o":8700,"x":2290,"l":1.0006,"h":1.0014},{"o":9191,"x":0,"l":1.0008,"h":1.0016},{"o":8700,"x":1660,"l":1.0006,"h":1.0012}],
"a5":[
{"o":979,"x":0,"l":1.0006,"h":1.0007},{"o":979,"x":200,"l":1.0006,"h":1.0008},{"o":979,"x":400,"l":1.0006,"h":1.0009},{"o":979,"x":600,"l":1.0006,"h":1.0007},{"o":979,"x":800,"l":1.0006,"h":1.00095},{"o":979,"x":1000,"l":1.0006,"h":1.00095},{"o":979,"x":1200,"l":1.0006,"h":1.0007},{"o":979,"x":1400,"l":1.0006,"h":1.0008},{"o":979,"x":1600,"l":1.0006,"h":1.0009},{"o":979,"x":1800,"l":1.0006,"h":1.0007},{"o":979,"x":2000,"l":1.0006,"h":1.0009},{"o":979,"x":2200,"l":1.0006,"h":1.00095},{"o":979,"x":2400,"l":1.0006,"h":1.0007},{"o":979,"x":2600,"l":1.0006,"h":1.0008},{"o":979,"x":2800,"l":1.0006,"h":1.0009},{"o":979,"x":3000,"l":1.0006,"h":1.0007},{"o":979,"x":3200,"l":1.0006,"h":1.0009},{"o":979,"x":3400,"l":1.0006,"h":1.0008},{"o":979,"x":3600,"l":1.0006,"h":1.0007},{"o":979,"x":3700,"l":1.0006,"h":1.0008},
{"o":2621,"x":0,"l":0.99925,"h":1.0007},{"o":2621,"x":200,"l":0.9993,"h":1.0007},{"o":2621,"x":400,"l":0.99925,"h":1.0007},{"o":2621,"x":600,"l":0.9993,"h":1.0007},{"o":2621,"x":800,"l":0.9993,"h":1.0007},{"o":2621,"x":1000,"l":0.99925,"h":1.0007},{"o":2621,"x":1200,"l":0.9993,"h":1.0007},{"o":2621,"x":1400,"l":0.9993,"h":1.0007},{"o":2621,"x":1600,"l":0.99925,"h":1.0007},{"o":2621,"x":1800,"l":0.9993,"h":1.0007},{"o":2621,"x":2000,"l":0.9993,"h":1.0007},{"o":2621,"x":2200,"l":0.99925,"h":1.0007},{"o":2621,"x":2400,"l":0.9993,"h":1.0007},{"o":2621,"x":2600,"l":0.9993,"h":1.0007},{"o":2621,"x":2800,"l":0.99925,"h":1.0007},{"o":2621,"x":3000,"l":0.9993,"h":1.0007},{"o":2621,"x":3200,"l":0.99925,"h":1.001},{"o":2621,"x":3400,"l":0.9993,"h":1.0008},{"o":2621,"x":3600,"l":0.99925,"h":1.0007},{"o":2621,"x":3700,"l":0.9993,"h":1.0007},
{"o":4263,"x":0,"l":0.9992,"h":1.0},{"o":4263,"x":200,"l":0.99915,"h":1.0},{"o":4263,"x":400,"l":0.99925,"h":1.0},{"o":4263,"x":600,"l":0.9992,"h":1.0},{"o":4263,"x":800,"l":0.99915,"h":1.0},{"o":4263,"x":1000,"l":0.99925,"h":1.0},{"o":4263,"x":1200,"l":0.9992,"h":1.0},{"o":4263,"x":1400,"l":0.99915,"h":1.0},{"o":4263,"x":1600,"l":0.99925,"h":1.0},{"o":4263,"x":1800,"l":0.99915,"h":1.0},{"o":4263,"x":2000,"l":0.9992,"h":1.0},{"o":4263,"x":2200,"l":0.99925,"h":1.0},{"o":4263,"x":2400,"l":0.99915,"h":1.0},{"o":4263,"x":2600,"l":0.9992,"h":1.0},{"o":4263,"x":2800,"l":0.99915,"h":1.0},{"o":4263,"x":3000,"l":0.99925,"h":1.0},{"o":4263,"x":3200,"l":0.9992,"h":1.0},{"o":4263,"x":3400,"l":0.99915,"h":1.0},{"o":4263,"x":3600,"l":0.9992,"h":1.0},{"o":4263,"x":3700,"l":0.9991,"h":1.0},
{"o":5906,"x":0,"l":0.9994,"h":1.0008},{"o":5906,"x":200,"l":0.99935,"h":1.0009},{"o":5906,"x":400,"l":0.9993,"h":1.00075},{"o":5906,"x":600,"l":0.9994,"h":1.00085},{"o":5906,"x":800,"l":0.9993,"h":1.00075},{"o":5906,"x":1000,"l":0.99925,"h":1.00085},{"o":5906,"x":1200,"l":0.9993,"h":1.0008},{"o":5906,"x":1400,"l":0.99935,"h":1.0009},{"o":5906,"x":1600,"l":0.9993,"h":1.00075},{"o":5906,"x":1800,"l":0.99925,"h":1.00085},{"o":5906,"x":2000,"l":0.9993,"h":1.0008},{"o":5906,"x":2200,"l":0.99935,"h":1.0009},{"o":5906,"x":2400,"l":0.99925,"h":1.00075},{"o":5906,"x":2600,"l":0.9993,"h":1.00085},{"o":5906,"x":2800,"l":0.99935,"h":1.0008},{"o":5906,"x":3000,"l":0.99925,"h":1.0009},{"o":5906,"x":3200,"l":0.99925,"h":1.00075},{"o":5906,"x":3400,"l":0.9993,"h":1.00085},{"o":5906,"x":3600,"l":0.99925,"h":1.0008},{"o":5906,"x":3700,"l":0.999,"h":1.0009},
{"o":7150,"x":0,"l":0.9995,"h":0.9999},{"o":7150,"x":200,"l":0.9995,"h":1.0},{"o":7150,"x":400,"l":0.99955,"h":0.9999},{"o":7150,"x":600,"l":0.9995,"h":0.9999},{"o":7150,"x":800,"l":0.99935,"h":0.9996},{"o":7150,"x":2000,"l":0.99935,"h":0.9996},{"o":7150,"x":3700,"l":0.99935,"h":0.9996},
{"o":8200,"x":0,"l":0.99975,"h":1.001},{"o":8200,"x":200,"l":0.99975,"h":1.00085},{"o":8200,"x":400,"l":0.99975,"h":1.00095},{"o":8200,"x":600,"l":0.99975,"h":1.0008},{"o":8200,"x":800,"l":0.9994,"h":1.0009},{"o":8200,"x":1000,"l":0.9994,"h":1.0008},{"o":8200,"x":1200,"l":0.9994,"h":1.00095},{"o":8200,"x":1400,"l":0.9994,"h":1.00085},{"o":8200,"x":1600,"l":0.9994,"h":1.0009},{"o":8200,"x":1800,"l":0.9994,"h":1.0008},{"o":8200,"x":2000,"l":0.9994,"h":1.00095},{"o":8200,"x":2200,"l":0.9994,"h":1.0008},{"o":8200,"x":2400,"l":0.9994,"h":1.0009},{"o":8200,"x":2600,"l":0.9994,"h":1.00085},{"o":8200,"x":2800,"l":0.9994,"h":1.00095},{"o":8200,"x":3000,"l":0.9994,"h":1.0008},{"o":8200,"x":3200,"l":0.9994,"h":1.0009},{"o":8200,"x":3400,"l":0.9994,"h":1.0008},{"o":8200,"x":3600,"l":0.9994,"h":1.001},{"o":8200,"x":3700,"l":0.9994,"h":1.00085},
{"o":9191,"x":0,"l":0.99955,"h":1.001},{"o":9191,"x":100,"l":0.99985,"h":1.0007},{"o":9191,"x":200,"l":0.99965,"h":1.0009},{"o":9191,"x":300,"l":0.99995,"h":1.0006},{"o":9191,"x":400,"l":0.99965,"h":1.001},{"o":9191,"x":500,"l":0.99955,"h":1.0008},{"o":9191,"x":600,"l":0.99985,"h":1.0007},{"o":9191,"x":700,"l":0.9995,"h":1.00095},{"o":9191,"x":800,"l":0.99905,"h":1.00045},{"o":9191,"x":900,"l":0.99945,"h":1.00075},{"o":9191,"x":1000,"l":0.99915,"h":1.00065},{"o":9191,"x":1100,"l":0.99935,"h":1.00085},{"o":9191,"x":1200,"l":0.99905,"h":1.00055},{"o":9191,"x":1300,"l":0.99935,"h":1.00045},{"o":9191,"x":1400,"l":0.99925,"h":1.00085},{"o":9191,"x":1500,"l":0.99905,"h":1.00075},{"o":9191,"x":1600,"l":0.99945,"h":1.00055},{"o":9191,"x":1700,"l":0.9989,"h":1.00085},{"o":9191,"x":1800,"l":0.99935,"h":1.00045},{"o":9191,"x":1900,"l":0.99905,"h":1.00065},{"o":9191,"x":2000,"l":0.99925,"h":1.00075},{"o":9191,"x":2100,"l":0.99945,"h":1.00045},{"o":9191,"x":2200,"l":0.99915,"h":1.00085},{"o":9191,"x":2300,"l":0.99905,"h":1.00055},{"o":9191,"x":2400,"l":0.99935,"h":1.00075},{"o":9191,"x":2500,"l":0.99915,"h":1.00085},{"o":9191,"x":2600,"l":0.9992,"h":1.00045},{"o":9191,"x":2700,"l":0.9988,"h":1.00065},{"o":9191,"x":2800,"l":0.99925,"h":1.00085},{"o":9191,"x":2900,"l":0.99935,"h":1.00055},{"o":9191,"x":3000,"l":0.99905,"h":1.00045},{"o":9191,"x":3100,"l":0.99935,"h":1.00075},{"o":9191,"x":3200,"l":0.99915,"h":1.00085},{"o":9191,"x":3300,"l":0.9992,"h":1.00055},{"o":9191,"x":3400,"l":0.99905,"h":1.00065},{"o":9191,"x":3500,"l":0.99925,"h":1.00085},{"o":9191,"x":3600,"l":0.99935,"h":1.00045},{"o":9191,"x":3700,"l":0.99915,"h":1.00075}
],
"s5":[{"o":9191,"x":3010,"l":1.0006,"h":1.0043},{"o":8700,"x":2100,"l":1.0008,"h":1.0014},{"o":8700,"x":350,"l":1.0008,"h":1.0013},{"o":8700,"x":3630,"l":1.0008,"h":1.0013},{"o":5906,"x":3700,"l":0.9988,"h":0.9993}],
"a6":[
{"o":979,"x":0,"l":1.0006,"h":1.0007},{"o":979,"x":200,"l":1.0006,"h":1.001},{"o":979,"x":400,"l":1.0006,"h":1.00095},{"o":979,"x":600,"l":1.0006,"h":1.0007},{"o":979,"x":800,"l":1.0006,"h":1.00085},{"o":979,"x":1000,"l":1.0006,"h":1.0007},{"o":979,"x":1200,"l":1.0006,"h":1.00085},{"o":979,"x":1400,"l":1.0006,"h":1.0007},{"o":979,"x":1600,"l":1.0006,"h":1.00085},{"o":979,"x":1800,"l":1.0006,"h":1.0007},{"o":979,"x":2000,"l":1.0006,"h":1.0009},{"o":979,"x":2200,"l":1.0006,"h":1.0007},{"o":979,"x":2400,"l":1.0006,"h":1.00085},{"o":979,"x":2600,"l":1.0006,"h":1.0007},{"o":979,"x":2800,"l":1.0006,"h":1.00085},{"o":979,"x":3000,"l":1.0006,"h":1.0007},{"o":979,"x":3200,"l":1.0006,"h":1.0009},{"o":979,"x":3400,"l":1.0006,"h":1.0007},{"o":979,"x":3600,"l":1.0006,"h":1.0009},{"o":979,"x":3700,"l":1.0006,"h":1.0007},
{"o":2621,"x":0,"l":0.9994,"h":1.00085},{"o":2621,"x":200,"l":0.9994,"h":1.00075},{"o":2621,"x":400,"l":0.9994,"h":1.0008},{"o":2621,"x":600,"l":0.9994,"h":1.0009},{"o":2621,"x":800,"l":0.9994,"h":1.00075},{"o":2621,"x":1000,"l":0.9994,"h":1.0009},{"o":2621,"x":1200,"l":0.9994,"h":1.00075},{"o":2621,"x":1400,"l":0.9994,"h":1.00085},{"o":2621,"x":1600,"l":0.9994,"h":1.00075},{"o":2621,"x":1800,"l":0.9994,"h":1.0009},{"o":2621,"x":2000,"l":0.9994,"h":1.00075},{"o":2621,"x":2200,"l":0.9994,"h":1.00085},{"o":2621,"x":2400,"l":0.9994,"h":1.00075},{"o":2621,"x":2600,"l":0.9994,"h":1.0009},{"o":2621,"x":2800,"l":0.9994,"h":1.00075},{"o":2621,"x":3000,"l":0.9994,"h":1.00085},{"o":2621,"x":3200,"l":0.9994,"h":1.001},{"o":2621,"x":3400,"l":0.9994,"h":1.0009},{"o":2621,"x":3600,"l":0.9994,"h":1.0008},{"o":2621,"x":3700,"l":0.9994,"h":1.00095},
{"o":4263,"x":0,"l":0.9992,"h":1.0},{"o":4263,"x":200,"l":0.99915,"h":1.0},{"o":4263,"x":400,"l":0.9992,"h":1.0},{"o":4263,"x":600,"l":0.99915,"h":1.0},{"o":4263,"x":800,"l":0.9992,"h":1.0},{"o":4263,"x":1000,"l":0.99925,"h":1.0},{"o":4263,"x":1200,"l":0.9992,"h":1.0},{"o":4263,"x":1400,"l":0.99915,"h":1.0},{"o":4263,"x":1600,"l":0.99915,"h":1.0},{"o":4263,"x":1800,"l":0.9992,"h":1.0},{"o":4263,"x":2000,"l":0.99925,"h":1.0},{"o":4263,"x":2200,"l":0.9992,"h":1.0},{"o":4263,"x":2400,"l":0.99905,"h":1.0},{"o":4263,"x":2600,"l":0.9991,"h":1.0},{"o":4263,"x":2800,"l":0.9992,"h":1.0},{"o":4263,"x":3000,"l":0.99925,"h":1.0},{"o":4263,"x":3200,"l":0.99915,"h":1.0},{"o":4263,"x":3400,"l":0.9992,"h":1.0},{"o":4263,"x":3600,"l":0.99915,"h":1.0},{"o":4263,"x":3700,"l":0.9991,"h":1.0},
{"o":5906,"x":0,"l":0.99915,"h":1.0007},{"o":5906,"x":200,"l":0.9991,"h":1.00085},{"o":5906,"x":400,"l":0.99915,"h":1.0007},{"o":5906,"x":600,"l":0.9992,"h":1.0008},{"o":5906,"x":800,"l":0.99925,"h":1.00085},{"o":5906,"x":1000,"l":0.99925,"h":1.00075},{"o":5906,"x":1200,"l":0.9993,"h":1.0008},{"o":5906,"x":1400,"l":0.9993,"h":1.00085},{"o":5906,"x":1600,"l":0.99925,"h":1.0007},{"o":5906,"x":1800,"l":0.9993,"h":1.0008},{"o":5906,"x":2000,"l":0.9993,"h":1.00085},{"o":5906,"x":2200,"l":0.99925,"h":1.0007},{"o":5906,"x":2400,"l":0.9993,"h":1.00085},{"o":5906,"x":2600,"l":0.9992,"h":1.00075},{"o":5906,"x":2800,"l":0.9993,"h":1.0008},{"o":5906,"x":3000,"l":0.9993,"h":1.00085},{"o":5906,"x":3200,"l":0.9992,"h":1.0007},{"o":5906,"x":3400,"l":0.9992,"h":1.0008},{"o":5906,"x":3600,"l":0.99925,"h":1.00085},{"o":5906,"x":3700,"l":0.9991,"h":1.00075},
{"o":7150,"x":0,"l":0.99925,"h":0.9997},{"o":7150,"x":200,"l":0.9992,"h":0.9997},{"o":7150,"x":400,"l":0.99925,"h":0.9997},{"o":7150,"x":600,"l":0.9992,"h":0.9997},{"o":7150,"x":800,"l":0.99935,"h":0.9996},{"o":7150,"x":3700,"l":0.99935,"h":0.9996},
{"o":8200,"x":0,"l":0.9995,"h":1.0008},{"o":8200,"x":200,"l":0.9995,"h":1.0007},{"o":8200,"x":400,"l":0.9995,"h":1.00085},{"o":8200,"x":600,"l":0.9995,"h":1.00075},{"o":8200,"x":800,"l":0.9995,"h":1.0007},{"o":8200,"x":1000,"l":0.9995,"h":1.00085},{"o":8200,"x":1200,"l":0.9995,"h":1.0007},{"o":8200,"x":1400,"l":0.9995,"h":1.00075},{"o":8200,"x":1600,"l":0.9995,"h":1.00085},{"o":8200,"x":1800,"l":0.9995,"h":1.0007},{"o":8200,"x":2000,"l":0.9995,"h":1.00075},{"o":8200,"x":2200,"l":0.9995,"h":1.00085},{"o":8200,"x":2400,"l":0.9995,"h":1.0007},{"o":8200,"x":2600,"l":0.9995,"h":1.00085},{"o":8200,"x":2800,"l":0.9995,"h":1.0007},{"o":8200,"x":3000,"l":0.9995,"h":1.00075},{"o":8200,"x":3200,"l":0.9995,"h":1.00085},{"o":8200,"x":3400,"l":0.9995,"h":1.0007},{"o":8200,"x":3600,"l":0.9995,"h":1.00075},{"o":8200,"x":3700,"l":0.9995,"h":1.0008},
{"o":9191,"x":0,"l":0.99925,"h":1.0007},{"o":9191,"x":100,"l":0.99955,"h":1.0004},{"o":9191,"x":200,"l":0.99935,"h":1.0006},{"o":9191,"x":300,"l":0.99965,"h":1.0003},{"o":9191,"x":400,"l":0.99935,"h":1.0007},{"o":9191,"x":500,"l":0.99925,"h":1.0005},{"o":9191,"x":600,"l":0.99955,"h":1.0004},{"o":9191,"x":700,"l":0.99945,"h":1.0007},{"o":9191,"x":800,"l":0.99925,"h":1.0003},{"o":9191,"x":900,"l":0.99965,"h":1.0006},{"o":9191,"x":1000,"l":0.99935,"h":1.0005},{"o":9191,"x":1100,"l":0.99955,"h":1.0007},{"o":9191,"x":1200,"l":0.99925,"h":1.0004},{"o":9191,"x":1300,"l":0.99955,"h":1.0003},{"o":9191,"x":1400,"l":0.99945,"h":1.0007},{"o":9191,"x":1500,"l":0.99925,"h":1.0006},{"o":9191,"x":1600,"l":0.9995,"h":1.0004},{"o":9191,"x":1700,"l":0.9992,"h":1.0007},{"o":9191,"x":1800,"l":0.9994,"h":1.0003},{"o":9191,"x":1900,"l":0.9991,"h":1.0005},{"o":9191,"x":2000,"l":0.9993,"h":1.0006},{"o":9191,"x":2100,"l":0.9995,"h":1.0003},{"o":9191,"x":2200,"l":0.99935,"h":1.0007},{"o":9191,"x":2300,"l":0.99925,"h":1.0004},{"o":9191,"x":2400,"l":0.99955,"h":1.0006},{"o":9191,"x":2500,"l":0.99935,"h":1.0007},{"o":9191,"x":2600,"l":0.99965,"h":1.0003},{"o":9191,"x":2700,"l":0.99925,"h":1.0005},{"o":9191,"x":2800,"l":0.99945,"h":1.0007},{"o":9191,"x":2900,"l":0.99955,"h":1.0004},{"o":9191,"x":3000,"l":0.99925,"h":1.0003},{"o":9191,"x":3100,"l":0.99955,"h":1.0006},{"o":9191,"x":3200,"l":0.99905,"h":1.0007},{"o":9191,"x":3300,"l":0.99935,"h":1.0004},{"o":9191,"x":3400,"l":0.99895,"h":1.0005},{"o":9191,"x":3500,"l":0.99945,"h":1.0007},{"o":9191,"x":3600,"l":0.99955,"h":1.0003},{"o":9191,"x":3700,"l":0.99935,"h":1.0006}
],
"s6":[{"o":4263,"x":3695,"l":0.997,"h":1.0037},{"o":9191,"x":3690,"l":0.998,"h":0.9993},{"o":5500,"x":2450,"l":0.9986,"h":0.9993},{"o":2621,"x":3710,"l":1.0006,"h":1.0012},{"o":9191,"x":3520,"l":0.9985,"h":0.9992}]
},
"columns":2,
"spacing":{"row":68,"column":102},
"bounds":"flush",
"resolve":{"scale":{"color":"independent","stroke":"independent"}},
"concat":[
{"width":530,"height":285,"title":"Gains ratios (Modelled over Original) for band OA1","resolve":{"axis":{"x":"independent","y":"independent"}},"layer":[
{"data":{"name":"a1"},"mark":{"type":"area","opacity":1},"encoding":{"x":{"field":"x","type":"quantitative","scale":{"domain":[0,4000],"nice":false,"zero":false},"axis":{"orient":"bottom","values":[0,1000,2000,3000,4000],"format":"d","tickSize":-9,"labelPadding":16,"title":"pixel","titlePadding":1}},"y":{"field":"h","type":"quantitative","scale":{"domain":[0.994,1.006],"nice":false,"zero":false},"axis":{"orient":"left","values":[0.994,0.996,0.998,1.0,1.002,1.004,1.006],"format":".3f","tickSize":-9,"labelPadding":14,"title":"Gains ratios","titlePadding":8}},"y2":{"field":"l"},"detail":{"field":"o","type":"nominal"},"color":{"field":"o","type":"quantitative","scale":{"type":"linear","domain":[979,1800,2621,3400,4263,5100,5906,6700,7200,7548,8300,8800,9191],"range":["#000000","#3a0078","#1020f0","#0078ff","#00d8f0","#00e090","#10d010","#88e000","#f0f000","#ffc000","#ff7000","#ff2000","#ff0000"],"interpolate":"rgb"},"legend":{"type":"gradient","orient":"none","legendX":117,"legendY":250,"direction":"horizontal","gradientLength":280,"gradientThickness":7,"title":"orbit","titleOrient":"top","titleAnchor":"middle","values":[979,2621,4263,5906,7548,9191],"format":"d","labelAlign":"center"}}}},
{"data":{"name":"s1"},"mark":{"type":"rule","strokeWidth":1.2},"encoding":{"x":{"field":"x","type":"quantitative","scale":{"domain":[0,4000],"nice":false,"zero":false},"axis":null},"y":{"field":"h","type":"quantitative","scale":{"domain":[0.994,1.006],"nice":false,"zero":false},"axis":null},"y2":{"field":"l"},"stroke":{"field":"o","type":"quantitative","scale":{"type":"linear","domain":[979,1800,2621,3400,4263,5100,5906,6700,7200,7548,8300,8800,9192],"range":["#000000","#3a0078","#1020f0","#0078ff","#00d8f0","#00e090","#10d010","#88e000","#f0f000","#ffc000","#ff7000","#ff2000","#ff0000"],"interpolate":"rgb"},"legend":null}}},
{"data":{"name":"s1"},"mark":{"type":"point","opacity":0},"encoding":{"x":{"field":"x","type":"quantitative","scale":{"domain":[0,4000],"nice":false,"zero":false},"axis":{"orient":"bottom","values":[100,200,300,400,500,600,700,800,900,1100,1200,1300,1400,1500,1600,1700,1800,1900,2100,2200,2300,2400,2500,2600,2700,2800,2900,3100,3200,3300,3400,3500,3600,3700,3800,3900],"tickSize":-5,"labels":false,"domain":false,"title":null}},"y":{"field":"h","type":"quantitative","scale":{"domain":[0.994,1.006],"nice":false,"zero":false},"axis":{"orient":"left","values":[0.9945,0.995,0.9955,0.9965,0.997,0.9975,0.9985,0.999,0.9995,1.0005,1.001,1.0015,1.0025,1.003,1.0035,1.0045,1.005,1.0055],"tickSize":-5,"labels":false,"domain":false,"title":null}}}},
{"data":{"name":"s1"},"mark":{"type":"point","opacity":0},"encoding":{"x":{"field":"x","type":"quantitative","scale":{"domain":[0,4000],"nice":false,"zero":false},"axis":{"orient":"top","values":[0,1000,2000,3000,4000],"tickSize":-9,"labels":false,"title":null}},"y":{"field":"h","type":"quantitative","scale":{"domain":[0.994,1.006],"nice":false,"zero":false},"axis":{"orient":"right","values":[0.994,0.996,0.998,1.0,1.002,1.004,1.006],"tickSize":-9,"labels":false,"title":null}}}},
{"data":{"name":"s1"},"mark":{"type":"point","opacity":0},"encoding":{"x":{"field":"x","type":"quantitative","scale":{"domain":[0,4000],"nice":false,"zero":false},"axis":{"orient":"top","values":[100,200,300,400,500,600,700,800,900,1100,1200,1300,1400,1500,1600,1700,1800,1900,2100,2200,2300,2400,2500,2600,2700,2800,2900,3100,3200,3300,3400,3500,3600,3700,3800,3900],"tickSize":-5,"labels":false,"domain":false,"title":null}},"y":{"field":"h","type":"quantitative","scale":{"domain":[0.994,1.006],"nice":false,"zero":false},"axis":{"orient":"right","values":[0.9945,0.995,0.9955,0.9965,0.997,0.9975,0.9985,0.999,0.9995,1.0005,1.001,1.0015,1.0025,1.003,1.0035,1.0045,1.005,1.0055],"tickSize":-5,"labels":false,"domain":false,"title":null}}}}
]},
{"width":530,"height":285,"title":"Gains ratios (Modelled over Original) for band OA2","resolve":{"axis":{"x":"independent","y":"independent"}},"layer":[
{"data":{"name":"a2"},"mark":{"type":"area","opacity":1},"encoding":{"x":{"field":"x","type":"quantitative","scale":{"domain":[0,4000],"nice":false,"zero":false},"axis":{"orient":"bottom","values":[0,1000,2000,3000,4000],"format":"d","tickSize":-9,"labelPadding":16,"title":"pixel","titlePadding":1}},"y":{"field":"h","type":"quantitative","scale":{"domain":[0.994,1.006],"nice":false,"zero":false},"axis":{"orient":"left","values":[0.994,0.996,0.998,1.0,1.002,1.004,1.006],"format":".3f","tickSize":-9,"labelPadding":14,"title":"Gains ratios","titlePadding":8}},"y2":{"field":"l"},"detail":{"field":"o","type":"nominal"},"color":{"field":"o","type":"quantitative","scale":{"type":"linear","domain":[979,1800,2621,3400,4263,5100,5906,6700,7200,7548,8300,8800,9191],"range":["#000000","#3a0078","#1020f0","#0078ff","#00d8f0","#00e090","#10d010","#88e000","#f0f000","#ffc000","#ff7000","#ff2000","#ff0000"],"interpolate":"rgb"},"legend":{"type":"gradient","orient":"none","legendX":117,"legendY":250,"direction":"horizontal","gradientLength":280,"gradientThickness":7,"title":"orbit","titleOrient":"top","titleAnchor":"middle","values":[979,2621,4263,5906,7548,9191],"format":"d","labelAlign":"center"}}}},
{"data":{"name":"s2"},"mark":{"type":"rule","strokeWidth":1.2},"encoding":{"x":{"field":"x","type":"quantitative","scale":{"domain":[0,4000],"nice":false,"zero":false},"axis":null},"y":{"field":"h","type":"quantitative","scale":{"domain":[0.994,1.006],"nice":false,"zero":false},"axis":null},"y2":{"field":"l"},"stroke":{"field":"o","type":"quantitative","scale":{"type":"linear","domain":[979,1800,2621,3400,4263,5100,5906,6700,7200,7548,8300,8800,9192],"range":["#000000","#3a0078","#1020f0","#0078ff","#00d8f0","#00e090","#10d010","#88e000","#f0f000","#ffc000","#ff7000","#ff2000","#ff0000"],"interpolate":"rgb"},"legend":null}}},
{"data":{"name":"s2"},"mark":{"type":"point","opacity":0},"encoding":{"x":{"field":"x","type":"quantitative","scale":{"domain":[0,4000],"nice":false,"zero":false},"axis":{"orient":"bottom","values":[100,200,300,400,500,600,700,800,900,1100,1200,1300,1400,1500,1600,1700,1800,1900,2100,2200,2300,2400,2500,2600,2700,2800,2900,3100,3200,3300,3400,3500,3600,3700,3800,3900],"tickSize":-5,"labels":false,"domain":false,"title":null}},"y":{"field":"h","type":"quantitative","scale":{"domain":[0.994,1.006],"nice":false,"zero":false},"axis":{"orient":"left","values":[0.9945,0.995,0.9955,0.9965,0.997,0.9975,0.9985,0.999,0.9995,1.0005,1.001,1.0015,1.0025,1.003,1.0035,1.0045,1.005,1.0055],"tickSize":-5,"labels":false,"domain":false,"title":null}}}},
{"data":{"name":"s2"},"mark":{"type":"point","opacity":0},"encoding":{"x":{"field":"x","type":"quantitative","scale":{"domain":[0,4000],"nice":false,"zero":false},"axis":{"orient":"top","values":[0,1000,2000,3000,4000],"tickSize":-9,"labels":false,"title":null}},"y":{"field":"h","type":"quantitative","scale":{"domain":[0.994,1.006],"nice":false,"zero":false},"axis":{"orient":"right","values":[0.994,0.996,0.998,1.0,1.002,1.004,1.006],"tickSize":-9,"labels":false,"title":null}}}},
{"data":{"name":"s2"},"mark":{"type":"point","opacity":0},"encoding":{"x":{"field":"x","type":"quantitative","scale":{"domain":[0,4000],"nice":false,"zero":false},"axis":{"orient":"top","values":[100,200,300,400,500,600,700,800,900,1100,1200,1300,1400,1500,1600,1700,1800,1900,2100,2200,2300,2400,2500,2600,2700,2800,2900,3100,3200,3300,3400,3500,3600,3700,3800,3900],"tickSize":-5,"labels":false,"domain":false,"title":null}},"y":{"field":"h","type":"quantitative","scale":{"domain":[0.994,1.006],"nice":false,"zero":false},"axis":{"orient":"right","values":[0.9945,0.995,0.9955,0.9965,0.997,0.9975,0.9985,0.999,0.9995,1.0005,1.001,1.0015,1.0025,1.003,1.0035,1.0045,1.005,1.0055],"tickSize":-5,"labels":false,"domain":false,"title":null}}}}
]},
{"width":530,"height":285,"title":"Gains ratios (Modelled over Original) for band OA3","resolve":{"axis":{"x":"independent","y":"independent"}},"layer":[
{"data":{"name":"a3"},"mark":{"type":"area","opacity":1},"encoding":{"x":{"field":"x","type":"quantitative","scale":{"domain":[0,4000],"nice":false,"zero":false},"axis":{"orient":"bottom","values":[0,1000,2000,3000,4000],"format":"d","tickSize":-9,"labelPadding":16,"title":"pixel","titlePadding":1}},"y":{"field":"h","type":"quantitative","scale":{"domain":[0.994,1.006],"nice":false,"zero":false},"axis":{"orient":"left","values":[0.994,0.996,0.998,1.0,1.002,1.004,1.006],"format":".3f","tickSize":-9,"labelPadding":14,"title":"Gains ratios","titlePadding":8}},"y2":{"field":"l"},"detail":{"field":"o","type":"nominal"},"color":{"field":"o","type":"quantitative","scale":{"type":"linear","domain":[979,1800,2621,3400,4263,5100,5906,6700,7200,7548,8300,8800,9191],"range":["#000000","#3a0078","#1020f0","#0078ff","#00d8f0","#00e090","#10d010","#88e000","#f0f000","#ffc000","#ff7000","#ff2000","#ff0000"],"interpolate":"rgb"},"legend":{"type":"gradient","orient":"none","legendX":117,"legendY":250,"direction":"horizontal","gradientLength":280,"gradientThickness":7,"title":"orbit","titleOrient":"top","titleAnchor":"middle","values":[979,2621,4263,5906,7548,9191],"format":"d","labelAlign":"center"}}}},
{"data":{"name":"s3"},"mark":{"type":"rule","strokeWidth":1.2},"encoding":{"x":{"field":"x","type":"quantitative","scale":{"domain":[0,4000],"nice":false,"zero":false},"axis":null},"y":{"field":"h","type":"quantitative","scale":{"domain":[0.994,1.006],"nice":false,"zero":false},"axis":null},"y2":{"field":"l"},"stroke":{"field":"o","type":"quantitative","scale":{"type":"linear","domain":[979,1800,2621,3400,4263,5100,5906,6700,7200,7548,8300,8800,9192],"range":["#000000","#3a0078","#1020f0","#0078ff","#00d8f0","#00e090","#10d010","#88e000","#f0f000","#ffc000","#ff7000","#ff2000","#ff0000"],"interpolate":"rgb"},"legend":null}}},
{"data":{"name":"s3"},"mark":{"type":"point","opacity":0},"encoding":{"x":{"field":"x","type":"quantitative","scale":{"domain":[0,4000],"nice":false,"zero":false},"axis":{"orient":"bottom","values":[100,200,300,400,500,600,700,800,900,1100,1200,1300,1400,1500,1600,1700,1800,1900,2100,2200,2300,2400,2500,2600,2700,2800,2900,3100,3200,3300,3400,3500,3600,3700,3800,3900],"tickSize":-5,"labels":false,"domain":false,"title":null}},"y":{"field":"h","type":"quantitative","scale":{"domain":[0.994,1.006],"nice":false,"zero":false},"axis":{"orient":"left","values":[0.9945,0.995,0.9955,0.9965,0.997,0.9975,0.9985,0.999,0.9995,1.0005,1.001,1.0015,1.0025,1.003,1.0035,1.0045,1.005,1.0055],"tickSize":-5,"labels":false,"domain":false,"title":null}}}},
{"data":{"name":"s3"},"mark":{"type":"point","opacity":0},"encoding":{"x":{"field":"x","type":"quantitative","scale":{"domain":[0,4000],"nice":false,"zero":false},"axis":{"orient":"top","values":[0,1000,2000,3000,4000],"tickSize":-9,"labels":false,"title":null}},"y":{"field":"h","type":"quantitative","scale":{"domain":[0.994,1.006],"nice":false,"zero":false},"axis":{"orient":"right","values":[0.994,0.996,0.998,1.0,1.002,1.004,1.006],"tickSize":-9,"labels":false,"title":null}}}},
{"data":{"name":"s3"},"mark":{"type":"point","opacity":0},"encoding":{"x":{"field":"x","type":"quantitative","scale":{"domain":[0,4000],"nice":false,"zero":false},"axis":{"orient":"top","values":[100,200,300,400,500,600,700,800,900,1100,1200,1300,1400,1500,1600,1700,1800,1900,2100,2200,2300,2400,2500,2600,2700,2800,2900,3100,3200,3300,3400,3500,3600,3700,3800,3900],"tickSize":-5,"labels":false,"domain":false,"title":null}},"y":{"field":"h","type":"quantitative","scale":{"domain":[0.994,1.006],"nice":false,"zero":false},"axis":{"orient":"right","values":[0.9945,0.995,0.9955,0.9965,0.997,0.9975,0.9985,0.999,0.9995,1.0005,1.001,1.0015,1.0025,1.003,1.0035,1.0045,1.005,1.0055],"tickSize":-5,"labels":false,"domain":false,"title":null}}}}
]},
{"width":530,"height":285,"title":"Gains ratios (Modelled over Original) for band OA4","resolve":{"axis":{"x":"independent","y":"independent"}},"layer":[
{"data":{"name":"a4"},"mark":{"type":"area","opacity":1},"encoding":{"x":{"field":"x","type":"quantitative","scale":{"domain":[0,4000],"nice":false,"zero":false},"axis":{"orient":"bottom","values":[0,1000,2000,3000,4000],"format":"d","tickSize":-9,"labelPadding":16,"title":"pixel","titlePadding":1}},"y":{"field":"h","type":"quantitative","scale":{"domain":[0.994,1.006],"nice":false,"zero":false},"axis":{"orient":"left","values":[0.994,0.996,0.998,1.0,1.002,1.004,1.006],"format":".3f","tickSize":-9,"labelPadding":14,"title":"Gains ratios","titlePadding":8}},"y2":{"field":"l"},"detail":{"field":"o","type":"nominal"},"color":{"field":"o","type":"quantitative","scale":{"type":"linear","domain":[979,1800,2621,3400,4263,5100,5906,6700,7200,7548,8300,8800,9191],"range":["#000000","#3a0078","#1020f0","#0078ff","#00d8f0","#00e090","#10d010","#88e000","#f0f000","#ffc000","#ff7000","#ff2000","#ff0000"],"interpolate":"rgb"},"legend":{"type":"gradient","orient":"none","legendX":117,"legendY":250,"direction":"horizontal","gradientLength":280,"gradientThickness":7,"title":"orbit","titleOrient":"top","titleAnchor":"middle","values":[979,2621,4263,5906,7548,9191],"format":"d","labelAlign":"center"}}}},
{"data":{"name":"s4"},"mark":{"type":"rule","strokeWidth":1.2},"encoding":{"x":{"field":"x","type":"quantitative","scale":{"domain":[0,4000],"nice":false,"zero":false},"axis":null},"y":{"field":"h","type":"quantitative","scale":{"domain":[0.994,1.006],"nice":false,"zero":false},"axis":null},"y2":{"field":"l"},"stroke":{"field":"o","type":"quantitative","scale":{"type":"linear","domain":[979,1800,2621,3400,4263,5100,5906,6700,7200,7548,8300,8800,9192],"range":["#000000","#3a0078","#1020f0","#0078ff","#00d8f0","#00e090","#10d010","#88e000","#f0f000","#ffc000","#ff7000","#ff2000","#ff0000"],"interpolate":"rgb"},"legend":null}}},
{"data":{"name":"s4"},"mark":{"type":"point","opacity":0},"encoding":{"x":{"field":"x","type":"quantitative","scale":{"domain":[0,4000],"nice":false,"zero":false},"axis":{"orient":"bottom","values":[100,200,300,400,500,600,700,800,900,1100,1200,1300,1400,1500,1600,1700,1800,1900,2100,2200,2300,2400,2500,2600,2700,2800,2900,3100,3200,3300,3400,3500,3600,3700,3800,3900],"tickSize":-5,"labels":false,"domain":false,"title":null}},"y":{"field":"h","type":"quantitative","scale":{"domain":[0.994,1.006],"nice":false,"zero":false},"axis":{"orient":"left","values":[0.9945,0.995,0.9955,0.9965,0.997,0.9975,0.9985,0.999,0.9995,1.0005,1.001,1.0015,1.0025,1.003,1.0035,1.0045,1.005,1.0055],"tickSize":-5,"labels":false,"domain":false,"title":null}}}},
{"data":{"name":"s4"},"mark":{"type":"point","opacity":0},"encoding":{"x":{"field":"x","type":"quantitative","scale":{"domain":[0,4000],"nice":false,"zero":false},"axis":{"orient":"top","values":[0,1000,2000,3000,4000],"tickSize":-9,"labels":false,"title":null}},"y":{"field":"h","type":"quantitative","scale":{"domain":[0.994,1.006],"nice":false,"zero":false},"axis":{"orient":"right","values":[0.994,0.996,0.998,1.0,1.002,1.004,1.006],"tickSize":-9,"labels":false,"title":null}}}},
{"data":{"name":"s4"},"mark":{"type":"point","opacity":0},"encoding":{"x":{"field":"x","type":"quantitative","scale":{"domain":[0,4000],"nice":false,"zero":false},"axis":{"orient":"top","values":[100,200,300,400,500,600,700,800,900,1100,1200,1300,1400,1500,1600,1700,1800,1900,2100,2200,2300,2400,2500,2600,2700,2800,2900,3100,3200,3300,3400,3500,3600,3700,3800,3900],"tickSize":-5,"labels":false,"domain":false,"title":null}},"y":{"field":"h","type":"quantitative","scale":{"domain":[0.994,1.006],"nice":false,"zero":false},"axis":{"orient":"right","values":[0.9945,0.995,0.9955,0.9965,0.997,0.9975,0.9985,0.999,0.9995,1.0005,1.001,1.0015,1.0025,1.003,1.0035,1.0045,1.005,1.0055],"tickSize":-5,"labels":false,"domain":false,"title":null}}}}
]},
{"width":530,"height":285,"title":"Gains ratios (Modelled over Original) for band OA5","resolve":{"axis":{"x":"independent","y":"independent"}},"layer":[
{"data":{"name":"a5"},"mark":{"type":"area","opacity":1},"encoding":{"x":{"field":"x","type":"quantitative","scale":{"domain":[0,4000],"nice":false,"zero":false},"axis":{"orient":"bottom","values":[0,1000,2000,3000,4000],"format":"d","tickSize":-9,"labelPadding":16,"title":"pixel","titlePadding":1}},"y":{"field":"h","type":"quantitative","scale":{"domain":[0.994,1.006],"nice":false,"zero":false},"axis":{"orient":"left","values":[0.994,0.996,0.998,1.0,1.002,1.004,1.006],"format":".3f","tickSize":-9,"labelPadding":14,"title":"Gains ratios","titlePadding":8}},"y2":{"field":"l"},"detail":{"field":"o","type":"nominal"},"color":{"field":"o","type":"quantitative","scale":{"type":"linear","domain":[979,1800,2621,3400,4263,5100,5906,6700,7200,7548,8300,8800,9191],"range":["#000000","#3a0078","#1020f0","#0078ff","#00d8f0","#00e090","#10d010","#88e000","#f0f000","#ffc000","#ff7000","#ff2000","#ff0000"],"interpolate":"rgb"},"legend":{"type":"gradient","orient":"none","legendX":117,"legendY":250,"direction":"horizontal","gradientLength":280,"gradientThickness":7,"title":"orbit","titleOrient":"top","titleAnchor":"middle","values":[979,2621,4263,5906,7548,9191],"format":"d","labelAlign":"center"}}}},
{"data":{"name":"s5"},"mark":{"type":"rule","strokeWidth":1.2},"encoding":{"x":{"field":"x","type":"quantitative","scale":{"domain":[0,4000],"nice":false,"zero":false},"axis":null},"y":{"field":"h","type":"quantitative","scale":{"domain":[0.994,1.006],"nice":false,"zero":false},"axis":null},"y2":{"field":"l"},"stroke":{"field":"o","type":"quantitative","scale":{"type":"linear","domain":[979,1800,2621,3400,4263,5100,5906,6700,7200,7548,8300,8800,9192],"range":["#000000","#3a0078","#1020f0","#0078ff","#00d8f0","#00e090","#10d010","#88e000","#f0f000","#ffc000","#ff7000","#ff2000","#ff0000"],"interpolate":"rgb"},"legend":null}}},
{"data":{"name":"s5"},"mark":{"type":"point","opacity":0},"encoding":{"x":{"field":"x","type":"quantitative","scale":{"domain":[0,4000],"nice":false,"zero":false},"axis":{"orient":"bottom","values":[100,200,300,400,500,600,700,800,900,1100,1200,1300,1400,1500,1600,1700,1800,1900,2100,2200,2300,2400,2500,2600,2700,2800,2900,3100,3200,3300,3400,3500,3600,3700,3800,3900],"tickSize":-5,"labels":false,"domain":false,"title":null}},"y":{"field":"h","type":"quantitative","scale":{"domain":[0.994,1.006],"nice":false,"zero":false},"axis":{"orient":"left","values":[0.9945,0.995,0.9955,0.9965,0.997,0.9975,0.9985,0.999,0.9995,1.0005,1.001,1.0015,1.0025,1.003,1.0035,1.0045,1.005,1.0055],"tickSize":-5,"labels":false,"domain":false,"title":null}}}},
{"data":{"name":"s5"},"mark":{"type":"point","opacity":0},"encoding":{"x":{"field":"x","type":"quantitative","scale":{"domain":[0,4000],"nice":false,"zero":false},"axis":{"orient":"top","values":[0,1000,2000,3000,4000],"tickSize":-9,"labels":false,"title":null}},"y":{"field":"h","type":"quantitative","scale":{"domain":[0.994,1.006],"nice":false,"zero":false},"axis":{"orient":"right","values":[0.994,0.996,0.998,1.0,1.002,1.004,1.006],"tickSize":-9,"labels":false,"title":null}}}},
{"data":{"name":"s5"},"mark":{"type":"point","opacity":0},"encoding":{"x":{"field":"x","type":"quantitative","scale":{"domain":[0,4000],"nice":false,"zero":false},"axis":{"orient":"top","values":[100,200,300,400,500,600,700,800,900,1100,1200,1300,1400,1500,1600,1700,1800,1900,2100,2200,2300,2400,2500,2600,2700,2800,2900,3100,3200,3300,3400,3500,3600,3700,3800,3900],"tickSize":-5,"labels":false,"domain":false,"title":null}},"y":{"field":"h","type":"quantitative","scale":{"domain":[0.994,1.006],"nice":false,"zero":false},"axis":{"orient":"right","values":[0.9945,0.995,0.9955,0.9965,0.997,0.9975,0.9985,0.999,0.9995,1.0005,1.001,1.0015,1.0025,1.003,1.0035,1.0045,1.005,1.0055],"tickSize":-5,"labels":false,"domain":false,"title":null}}}}
]},
{"width":530,"height":285,"title":"Gains ratios (Modelled over Original) for band OA6","resolve":{"axis":{"x":"independent","y":"independent"}},"layer":[
{"data":{"name":"a6"},"mark":{"type":"area","opacity":1},"encoding":{"x":{"field":"x","type":"quantitative","scale":{"domain":[0,4000],"nice":false,"zero":false},"axis":{"orient":"bottom","values":[0,1000,2000,3000,4000],"format":"d","tickSize":-9,"labelPadding":16,"title":"pixel","titlePadding":1}},"y":{"field":"h","type":"quantitative","scale":{"domain":[0.994,1.006],"nice":false,"zero":false},"axis":{"orient":"left","values":[0.994,0.996,0.998,1.0,1.002,1.004,1.006],"format":".3f","tickSize":-9,"labelPadding":14,"title":"Gains ratios","titlePadding":8}},"y2":{"field":"l"},"detail":{"field":"o","type":"nominal"},"color":{"field":"o","type":"quantitative","scale":{"type":"linear","domain":[979,1800,2621,3400,4263,5100,5906,6700,7200,7548,8300,8800,9191],"range":["#000000","#3a0078","#1020f0","#0078ff","#00d8f0","#00e090","#10d010","#88e000","#f0f000","#ffc000","#ff7000","#ff2000","#ff0000"],"interpolate":"rgb"},"legend":{"type":"gradient","orient":"none","legendX":117,"legendY":250,"direction":"horizontal","gradientLength":280,"gradientThickness":7,"title":"orbit","titleOrient":"top","titleAnchor":"middle","values":[979,2621,4263,5906,7548,9191],"format":"d","labelAlign":"center"}}}},
{"data":{"name":"s6"},"mark":{"type":"rule","strokeWidth":1.2},"encoding":{"x":{"field":"x","type":"quantitative","scale":{"domain":[0,4000],"nice":false,"zero":false},"axis":null},"y":{"field":"h","type":"quantitative","scale":{"domain":[0.994,1.006],"nice":false,"zero":false},"axis":null},"y2":{"field":"l"},"stroke":{"field":"o","type":"quantitative","scale":{"type":"linear","domain":[979,1800,2621,3400,4263,5100,5906,6700,7200,7548,8300,8800,9192],"range":["#000000","#3a0078","#1020f0","#0078ff","#00d8f0","#00e090","#10d010","#88e000","#f0f000","#ffc000","#ff7000","#ff2000","#ff0000"],"interpolate":"rgb"},"legend":null}}},
{"data":{"name":"s6"},"mark":{"type":"point","opacity":0},"encoding":{"x":{"field":"x","type":"quantitative","scale":{"domain":[0,4000],"nice":false,"zero":false},"axis":{"orient":"bottom","values":[100,200,300,400,500,600,700,800,900,1100,1200,1300,1400,1500,1600,1700,1800,1900,2100,2200,2300,2400,2500,2600,2700,2800,2900,3100,3200,3300,3400,3500,3600,3700,3800,3900],"tickSize":-5,"labels":false,"domain":false,"title":null}},"y":{"field":"h","type":"quantitative","scale":{"domain":[0.994,1.006],"nice":false,"zero":false},"axis":{"orient":"left","values":[0.9945,0.995,0.9955,0.9965,0.997,0.9975,0.9985,0.999,0.9995,1.0005,1.001,1.0015,1.0025,1.003,1.0035,1.0045,1.005,1.0055],"tickSize":-5,"labels":false,"domain":false,"title":null}}}},
{"data":{"name":"s6"},"mark":{"type":"point","opacity":0},"encoding":{"x":{"field":"x","type":"quantitative","scale":{"domain":[0,4000],"nice":false,"zero":false},"axis":{"orient":"top","values":[0,1000,2000,3000,4000],"tickSize":-9,"labels":false,"title":null}},"y":{"field":"h","type":"quantitative","scale":{"domain":[0.994,1.006],"nice":false,"zero":false},"axis":{"orient":"right","values":[0.994,0.996,0.998,1.0,1.002,1.004,1.006],"tickSize":-9,"labels":false,"title":null}}}},
{"data":{"name":"s6"},"mark":{"type":"point","opacity":0},"encoding":{"x":{"field":"x","type":"quantitative","scale":{"domain":[0,4000],"nice":false,"zero":false},"axis":{"orient":"top","values":[100,200,300,400,500,600,700,800,900,1100,1200,1300,1400,1500,1600,1700,1800,1900,2100,2200,2300,2400,2500,2600,2700,2800,2900,3100,3200,3300,3400,3500,3600,3700,3800,3900],"tickSize":-5,"labels":false,"domain":false,"title":null}},"y":{"field":"h","type":"quantitative","scale":{"domain":[0.994,1.006],"nice":false,"zero":false},"axis":{"orient":"right","values":[0.9945,0.995,0.9955,0.9965,0.997,0.9975,0.9985,0.999,0.9995,1.0005,1.001,1.0015,1.0025,1.003,1.0035,1.0045,1.005,1.0055],"tickSize":-5,"labels":false,"domain":false,"title":null}}}}
]}
]
}
